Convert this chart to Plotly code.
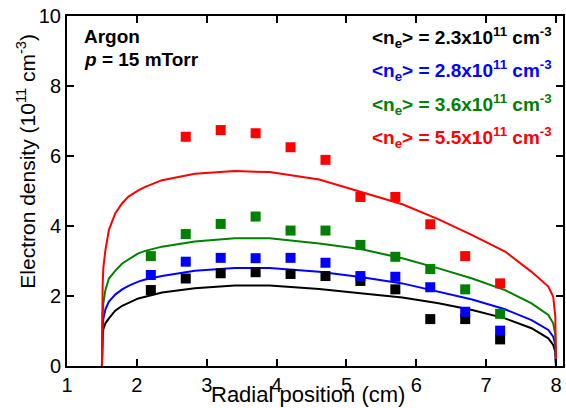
import plotly.graph_objects as go

# Measured points (radial position, cm)
x_meas = [2.2, 2.7, 3.2, 3.7, 4.2, 4.7, 5.2, 5.7, 6.2, 6.7, 7.2]
black_meas = [2.17, 2.50, 2.65, 2.68, 2.63, 2.57, 2.43, 2.19, 1.34, 1.34, 0.76]
blue_meas = [2.60, 2.98, 3.09, 3.08, 3.09, 2.95, 2.57, 2.55, 2.25, 1.55, 1.01]
green_meas = [3.14, 3.77, 4.06, 4.27, 3.87, 3.87, 3.46, 3.12, 2.77, 2.19, 1.49]
x_red_meas = [2.7, 3.2, 3.7, 4.2, 4.7, 5.2, 5.7, 6.2, 6.7, 7.2]
red_meas = [6.55, 6.74, 6.65, 6.25, 5.89, 4.83, 4.83, 4.05, 3.14, 2.36]

# Model profiles
x_model = [1.5, 1.505, 1.51, 1.52, 1.55, 1.6, 1.69, 1.79, 1.88, 2.02, 2.12, 2.36,
           2.83, 3.4, 3.9, 4.61, 5.2, 5.8, 6.32, 6.8, 7.27, 7.65, 7.89, 7.96, 7.99, 8.0]
red_model = [0, 1.6, 2.3, 2.8, 3.31, 3.89, 4.36, 4.65, 4.84, 5.02, 5.12, 5.31,
             5.49, 5.57, 5.54, 5.33, 4.98, 4.62, 4.19, 3.74, 3.27, 2.69, 2.27, 1.98, 1.41, 0]
green_model = [0, 1.0, 1.5, 1.8, 2.17, 2.5, 2.72, 2.93, 3.05, 3.22, 3.29, 3.41,
               3.56, 3.65, 3.65, 3.5, 3.34, 3.08, 2.79, 2.5, 2.17, 1.79, 1.46, 1.22, 0.9, 0]
blue_model = [0, 0.8, 1.1, 1.35, 1.62, 1.84, 2.04, 2.19, 2.29, 2.41, 2.47, 2.57,
              2.72, 2.8, 2.8, 2.69, 2.54, 2.36, 2.12, 1.9, 1.62, 1.31, 1.03, 0.84, 0.6, 0]
black_model = [0, 0.6, 0.85, 1.05, 1.22, 1.36, 1.58, 1.72, 1.8, 1.93, 1.98, 2.1,
               2.22, 2.3, 2.3, 2.2, 2.08, 1.96, 1.79, 1.6, 1.36, 1.08, 0.79, 0.6, 0.4, 0]

labels = ["2.3", "2.8", "3.6", "5.5"]
colors = ["#000000", "#0000FF", "#008000", "#FF0000"]

FONT = "Arial, 'Liberation Sans', sans-serif"

fig = go.Figure()
for ym, c in zip([black_model, blue_model, green_model, red_model], colors):
    fig.add_trace(go.Scatter(x=x_model, y=ym, mode="lines",
                             line=dict(color=c, width=2), showlegend=False))

for xs, ys, c in zip([x_meas, x_meas, x_meas, x_red_meas],
                     [black_meas, blue_meas, green_meas, red_meas], colors):
    fig.add_trace(go.Scatter(x=xs, y=ys, mode="markers",
                             marker=dict(symbol="square", size=10, color=c, line=dict(width=0)),
                             showlegend=False))

axis_common = dict(showline=True, linewidth=2, linecolor="black", mirror="ticks",
                   ticks="inside", ticklen=7, tickwidth=1.5, tickcolor="black",
                   showgrid=False, zeroline=False,
                   tickfont=dict(family=FONT, size=20, color="black"))

fig.update_xaxes(range=[1, 8.1], tickvals=[1, 2, 3, 4, 5, 6, 7, 8], **axis_common)
fig.update_yaxes(range=[0, 10], tickvals=[0, 2, 4, 6, 8, 10], **axis_common)

def px_x(p):
    return 1 + (p - 66.5) / 70.2

def px_y(p):
    return (366 - p) / 35

annotations = [
    dict(text="Radial position (cm)", x=(309 - 66.5) / 498.5, y=(366 - 395) / 350,
         xref="paper", yref="paper", xanchor="center", yanchor="middle", showarrow=False,
         font=dict(family=FONT, size=22, color="black")),
    dict(text="Electron density (10<sup>11</sup> cm<sup>-3</sup>)",
         x=(25 - 66.5) / 498.5, y=(366 - 161) / 350,
         xref="paper", yref="paper", textangle=-90, xanchor="center", yanchor="middle",
         showarrow=False, font=dict(family=FONT, size=21, color="black")),
    dict(text="<b>Argon</b>", x=px_x(82), y=px_y(36), xref="x", yref="y", xanchor="left",
         yanchor="middle", showarrow=False, font=dict(family=FONT, size=19, color="black")),
    dict(text="<b><i>p</i> = 15 mTorr</b>", x=px_x(82), y=px_y(59), xref="x", yref="y",
         xanchor="left", yanchor="middle", showarrow=False,
         font=dict(family=FONT, size=19, color="black")),
]

line_y = [37, 70, 104, 137]
for lab, c, py in zip(labels, colors, line_y):
    annotations.append(dict(
        text="<b>&lt;n<sub>e</sub>&gt; = " + lab + "x10<sup>11</sup> cm<sup>-3</sup></b>",
        x=px_x(556), y=px_y(py), xref="x", yref="y",
        xanchor="right", yanchor="middle", showarrow=False,
        font=dict(family=FONT, size=19, color=c)))

fig.update_layout(width=566, height=408, margin=dict(l=67, r=1, t=16, b=42),
                  paper_bgcolor="white", plot_bgcolor="white",
                  annotations=annotations, font=dict(family=FONT))

fig.write_html("out.html")
